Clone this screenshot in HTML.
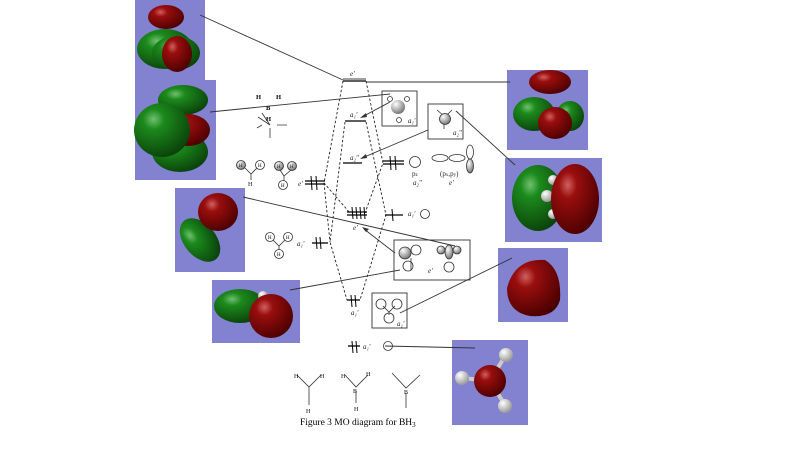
<!DOCTYPE html>
<html><head><meta charset="utf-8"><style>
html,body{margin:0;padding:0;background:#fff;width:800px;height:450px;overflow:hidden}
svg{display:block}
text{font-family:"Liberation Serif",serif}
</style></head><body>
<svg width="800" height="450" viewBox="0 0 800 450" xmlns="http://www.w3.org/2000/svg">
<defs>
<radialGradient id="r" cx="0.35" cy="0.3" r="0.75"><stop offset="0" stop-color="#d06060"/><stop offset="0.25" stop-color="#9a0e0e"/><stop offset="1" stop-color="#4a0000"/></radialGradient>
<radialGradient id="g" cx="0.35" cy="0.3" r="0.75"><stop offset="0" stop-color="#70c070"/><stop offset="0.25" stop-color="#1c8a1c"/><stop offset="1" stop-color="#0a400a"/></radialGradient>
<radialGradient id="w" cx="0.35" cy="0.3" r="0.7"><stop offset="0" stop-color="#fff"/><stop offset="1" stop-color="#999"/></radialGradient>
<radialGradient id="s" cx="0.35" cy="0.3" r="0.8"><stop offset="0" stop-color="#fff"/><stop offset="1" stop-color="#666"/></radialGradient>
</defs>
<g fill="#8282d0">
<rect x="135" y="0" width="70" height="85"/>
<rect x="135" y="80" width="81" height="100"/>
<rect x="175" y="188" width="70" height="84"/>
<rect x="212" y="280" width="88" height="63"/>
<rect x="507" y="70" width="81" height="80"/>
<rect x="505" y="158" width="97" height="84"/>
<rect x="498" y="248" width="70" height="74"/>
<rect x="452" y="340" width="76" height="85"/>
</g>
<!-- box1 -->
<ellipse cx="165" cy="49" rx="28" ry="20" fill="url(#g)"/>
<ellipse cx="176" cy="53" rx="24" ry="17" fill="url(#g)"/>
<ellipse cx="166" cy="17" rx="18" ry="12" fill="url(#r)"/>
<ellipse cx="177" cy="54" rx="15" ry="18" fill="url(#r)"/>
<!-- box2 -->
<ellipse cx="183" cy="100" rx="25" ry="15" fill="url(#g)"/>
<ellipse cx="180" cy="152" rx="28" ry="20" fill="url(#g)"/>
<ellipse cx="188" cy="130" rx="22" ry="16" fill="url(#r)"/>
<ellipse cx="162" cy="130" rx="28" ry="27" fill="url(#g)"/>
<!-- box3 -->
<ellipse cx="200" cy="240" rx="16" ry="25" transform="rotate(-40 200 240)" fill="url(#g)"/>
<ellipse cx="218" cy="212" rx="20" ry="19" fill="url(#r)"/>
<!-- box4 -->
<ellipse cx="240" cy="306" rx="26" ry="17" fill="url(#g)"/>
<circle cx="263" cy="296" r="5" fill="url(#w)"/>
<ellipse cx="271" cy="316" rx="22" ry="22" fill="url(#r)"/>
<!-- box5 -->
<ellipse cx="570" cy="116" rx="14" ry="15" fill="url(#g)"/>
<ellipse cx="534" cy="114" rx="21" ry="17" fill="url(#g)"/>
<ellipse cx="550" cy="82" rx="21" ry="12" fill="url(#r)"/>
<ellipse cx="555" cy="123" rx="17" ry="16" fill="url(#r)"/>
<!-- box6 -->
<ellipse cx="538" cy="198" rx="26" ry="33" fill="url(#g)"/>
<circle cx="547" cy="196" r="6" fill="url(#w)"/><circle cx="553" cy="180" r="5" fill="url(#w)"/><circle cx="553" cy="214" r="5" fill="url(#w)"/>
<ellipse cx="575" cy="199" rx="24" ry="35" fill="url(#r)"/>
<!-- box7 -->
<path d="M507 288 Q515 258 545 260 Q562 270 560 300 Q555 318 530 316 Q507 312 507 288Z" fill="url(#r)"/>
<!-- box8 -->
<line x1="490" y1="381" x2="505" y2="356" stroke="#ccc" stroke-width="4"/><line x1="490" y1="381" x2="463" y2="378" stroke="#ccc" stroke-width="4"/><line x1="490" y1="381" x2="505" y2="405" stroke="#ccc" stroke-width="4"/>
<circle cx="490" cy="381" r="16" fill="url(#r)"/>
<circle cx="506" cy="355" r="7" fill="url(#w)"/><circle cx="462" cy="378" r="7" fill="url(#w)"/><circle cx="505" cy="406" r="7" fill="url(#w)"/>

<!-- connector lines -->
<g stroke="#333" stroke-width="0.9" fill="none">
<line x1="200" y1="15" x2="343" y2="80"/>
<line x1="366" y1="82" x2="510" y2="82"/>
<line x1="210" y1="112" x2="390" y2="94"/>
<line x1="243" y1="197" x2="455" y2="246"/>
<line x1="290" y1="290" x2="400" y2="270"/>
<line x1="456" y1="111" x2="515" y2="165"/>
<line x1="400" y1="313" x2="512" y2="258"/>
<line x1="385" y1="346" x2="475" y2="348"/>
<line x1="390" y1="102" x2="362" y2="117"/>
<line x1="428" y1="130" x2="362" y2="158"/>
<line x1="395" y1="253" x2="364" y2="229"/>
</g>
<g fill="#333"><path d="M360 118 l6 -5 l1 4z"/><path d="M360 159 l6 -5 l1 4z"/><path d="M362 227 l7 2 l-3 3z"/></g>
<!-- dashed -->
<g stroke="#222" stroke-width="0.9" stroke-dasharray="2.5,2" fill="none">
<path d="M343 81 L324 183 L350 213"/>
<path d="M366 81 L383 163 L365 213"/>
<path d="M345 122 L330 242 L347 300"/>
<path d="M366 122 L386 215 L360 300"/>
<path d="M324 183 L330 242"/>
</g>
<!-- levels -->
<g stroke="#000" stroke-width="1.3">
<line x1="343" y1="81" x2="366" y2="81"/><line x1="343" y1="79" x2="366" y2="79" stroke-width="0.7"/>
<line x1="345" y1="121" x2="366" y2="121"/>
<line x1="343" y1="163" x2="362" y2="163"/>
<line x1="347" y1="212" x2="367" y2="212"/><line x1="347" y1="215" x2="367" y2="215"/>
<line x1="305" y1="181" x2="325" y2="181"/><line x1="305" y1="184" x2="325" y2="184"/>
<line x1="383" y1="161" x2="404" y2="161"/><line x1="383" y1="164" x2="404" y2="164"/>
<line x1="312" y1="243" x2="328" y2="243"/>
<line x1="385" y1="215" x2="403" y2="215"/>
<line x1="347" y1="300" x2="360" y2="300"/>
<line x1="348" y1="346" x2="360" y2="346"/>
</g>
<!-- electrons -->
<g stroke="#000" stroke-width="1">
<path d="M311 176 l1 14 M316 176 l1 14"/><path d="M316 237 l1 12 M320 237 l1 12"/>
<path d="M390 156 l1 14 M395 156 l1 14"/><path d="M392 209 l1 12"/>
<path d="M352 207 l1 12 M356 207 l1 12 M360 207 l1 12 M364 207 l1 12"/>
<path d="M351 295 l1 12 M355 295 l1 12"/><path d="M352 341 l1 12 M356 341 l1 12"/>
</g>
<!-- framed boxes -->
<g fill="none" stroke="#333" stroke-width="0.9">
<rect x="382" y="91" width="35" height="35"/>
<rect x="428" y="104" width="35" height="35"/>
<rect x="394" y="240" width="76" height="40"/>
<rect x="372" y="293" width="35" height="35"/>
</g>
<circle cx="398" cy="107" r="7" fill="url(#s)"/>
<g fill="none" stroke="#333" stroke-width="0.8">
<circle cx="390" cy="99" r="2.5"/><circle cx="407" cy="99" r="2.5"/><circle cx="399" cy="120" r="2.5"/>
<path d="M437 110 l7 6 M452 110 l-6 6 M444 123 l0 6"/>
<circle cx="445" cy="119" r="5.5" fill="url(#s)"/>
<circle cx="405" cy="253" r="6" fill="url(#s)"/><circle cx="416" cy="250" r="5"/><circle cx="408" cy="266" r="5"/><path d="M411 258 l0 12"/>
<circle cx="441" cy="250" r="4" fill="url(#s)"/><circle cx="457" cy="250" r="4" fill="url(#s)"/><ellipse cx="449" cy="252" rx="4" ry="7" fill="url(#s)"/><circle cx="449" cy="267" r="5"/>
<circle cx="381" cy="304" r="5"/><circle cx="397" cy="304" r="5"/><circle cx="389" cy="318" r="5"/><path d="M383 306 l6 6 l6 -6 M389 312 l0 3"/>
<circle cx="425" cy="214" r="4.5"/><circle cx="388" cy="346" r="4.5"/>
<circle cx="415" cy="162" r="5.5"/>
<ellipse cx="440" cy="158" rx="8" ry="3.5"/><ellipse cx="457" cy="158" rx="8" ry="3.5"/>
<ellipse cx="470" cy="152" rx="3.5" ry="7"/><ellipse cx="470" cy="166" rx="3.5" ry="7" fill="url(#s)"/>
</g>
<!-- left small molecules -->
<g fill="none" stroke="#333" stroke-width="0.8">
<circle cx="241" cy="165" r="4.5" fill="url(#s)"/><circle cx="260" cy="165" r="4.5"/><path d="M245 168 l6 6 l6 -6 M251 174 l0 6"/>
<circle cx="279" cy="166" r="4.5" fill="url(#s)"/><circle cx="292" cy="166" r="4.5" fill="url(#s)"/><circle cx="283" cy="185" r="4.5"/><path d="M280 170 l4 6 l7 -6 M284 176 l0 5"/>
<circle cx="270" cy="237" r="4.5"/><circle cx="288" cy="237" r="4.5"/><circle cx="279" cy="254" r="4.5"/><path d="M273 240 l6 6 l6 -6 M279 246 l0 4"/>
<path d="M297 375 l12 12 l12 -12 M309 387 l0 18"/>
<path d="M345 375 l11 12 l12 -12 M356 391 l0 12"/>
<path d="M392 373 l14 15 l14 -13 M406 393 l0 15"/>
<path d="M258 117 l12 8 l-8 -12 M262 125 l-5 3 M277 125 l10 0 M270 128 l0 10"/>
</g>
<g font-size="6.5" fill="#000" font-family="Liberation Sans,sans-serif" font-weight="bold">
<text x="256" y="99">H</text><text x="276" y="99">H</text><text x="266" y="110">B</text><text x="266" y="121">H</text>
</g>
<g font-size="6" fill="#000">
<text x="239" y="167" font-size="5">H</text><text x="258" y="167" font-size="5">H</text><text x="248" y="186">H</text>
<text x="277" y="168" font-size="5">H</text><text x="290" y="168" font-size="5">H</text><text x="281" y="187" font-size="5">H</text>
<text x="268" y="239" font-size="5">H</text><text x="286" y="239" font-size="5">H</text><text x="277" y="256" font-size="5">H</text>
<text x="294" y="378">H</text><text x="320" y="378">H</text><text x="306" y="413">H</text>
<text x="341" y="378">H</text><text x="366" y="376">H</text><text x="353" y="393">B</text><text x="354" y="411">H</text>
<text x="404" y="394">B</text>
</g>
<g font-size="7" font-style="italic" fill="#222">
<text x="350" y="76">e'</text>
<text x="350" y="117">a₁'</text>
<text x="350" y="160">a₂''</text>
<text x="353" y="230">e'</text>
<text x="351" y="315">a₁'</text>
<text x="363" y="349">a₁'</text>
<text x="298" y="186">e'</text>
<text x="297" y="246">a₁'</text>
<text x="408" y="216">a₁'</text>
<text x="408" y="123">a₁'</text>
<text x="453" y="135">a₂''</text>
<text x="428" y="273">e'</text>
<text x="397" y="326">a₁'</text>
<text x="413" y="185">a₂''</text>
<text x="449" y="185">e'</text>
</g>
<g font-size="7" fill="#222">
<text x="412" y="176">p<tspan font-size="5">z</tspan></text>
<text x="440" y="176">(p<tspan font-size="5">x</tspan>,p<tspan font-size="5">y</tspan>)</text>
</g>
<text x="300" y="425" font-size="9.5" fill="#000">Figure 3 MO diagram for BH<tspan font-size="7" dy="2">3</tspan></text>
</svg>
</body></html>
